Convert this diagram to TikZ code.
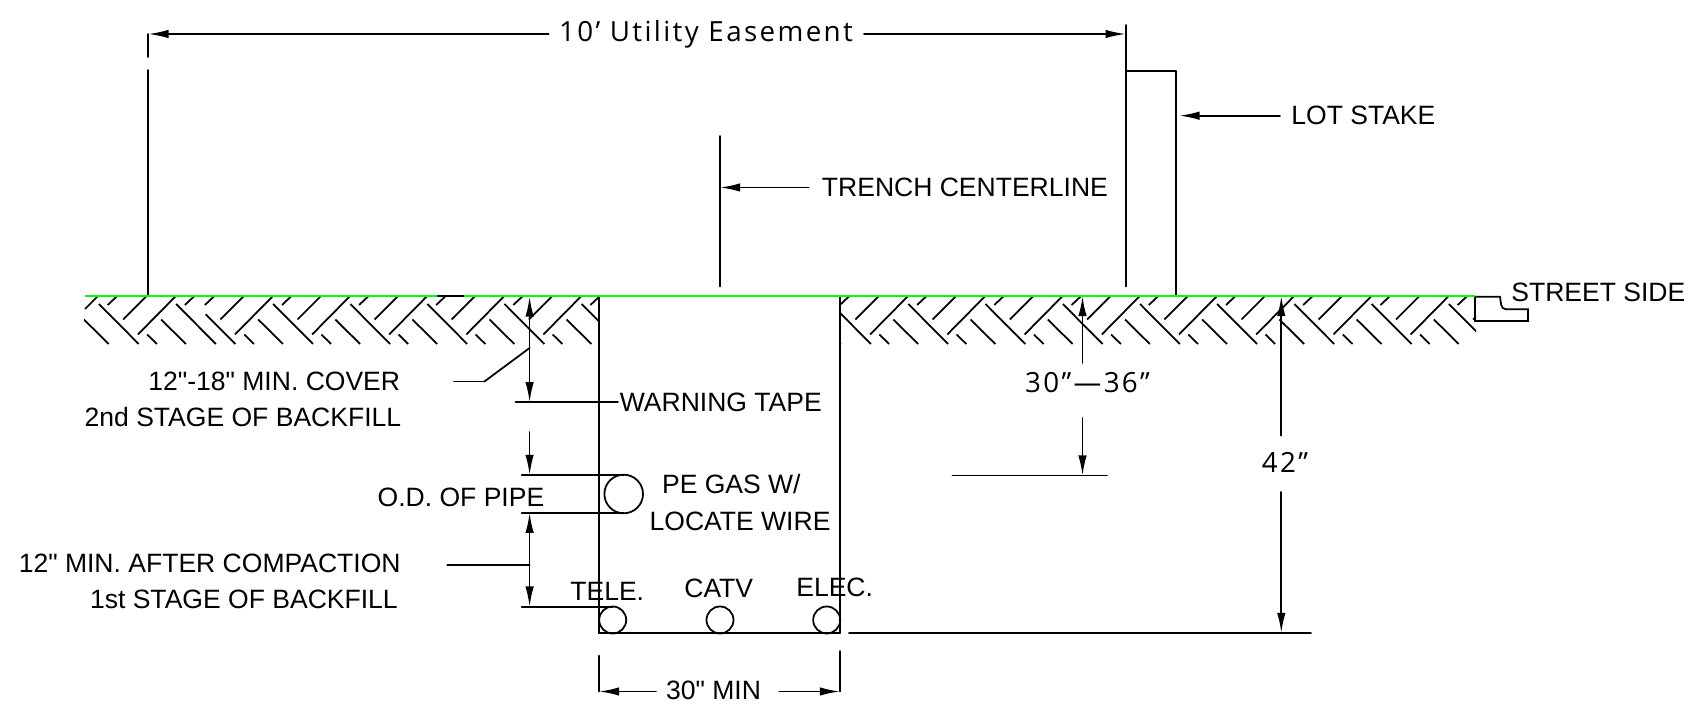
\documentclass[tikz,border=0pt]{standalone}
\usepackage{fontspec}
\setmainfont[Ligatures=TeXOff]{Liberation Sans}
\newfontfamily\cadfont[LetterSpace=8.5]{Open Sans}
\usepackage{tkz-euclide}
\usetikzlibrary{calc,arrows.meta}
\definecolor{groundgreen}{RGB}{0,250,0}
\tikzset{
    dwg/.style={color=black,line width=1pt},
    dimend/.style={dwg,-{Latex[length=11.5pt,width=4.8pt]}},
    dimboth/.style={dwg,{Latex[length=11.5pt,width=4.8pt]}-{Latex[length=11.5pt,width=4.8pt]}},
    lbl/.style={anchor=base west,inner sep=0pt,font=\fontsize{15.1pt}{17pt}\selectfont},
    cadlbl/.style={anchor=center,inner sep=0pt,font=\cadfont\fontsize{15.8pt}{17pt}\selectfont},
}
\begin{document}
\begin{tikzpicture}[x=0.02cm,y=-0.02cm]
    \useasboundingbox (0,0) rectangle (1695,715);
    % soil hatching, left of trench
    \begin{scope}
    \clip (84,290) rectangle (599,350);
    \foreach \b in {235,312.1,389.2,466.3,543.4} {
        \draw[dwg] (\b,334.5) -- (\b+37.5,296.5);
        \draw[dwg] (\b+47,305) -- (\b+56,296.5);
        \draw[dwg] (\b+62.5,319.5) -- (\b+85.5,296.5);
        \draw[dwg] (\b+9.3,334.5) -- (\b+19,344);
        \draw[dwg] (\b+23.2,319.5) -- (\b+48,344);
        \draw[dwg] (\b+38.2,304) -- (\b+78,344);
    }
    \foreach \b in {60.7,137.9} {
        \draw[dwg] (\b+47,305) -- (\b+56,296.5);
        \draw[dwg] (\b+23.2,319.5) -- (\b+48,344);
        \draw[dwg] (\b+38.2,304) -- (\b+78,344);
    }
    \draw[dwg] (85,309) -- (97.5,296.5);
    \draw[dwg] (123.2,319.5) -- (146.2,296.5);
    \draw[dwg] (137.9,334.5) -- (175.4,296.5);
    \draw[dwg] (147.2,334.5) -- (156.9,344);
    \draw[dwg] (204.9,305) -- (213.9,296.5);
    \draw[dwg] (220.4,319.5) -- (243.4,296.5);
    \draw[dwg] (205.7,314.3) -- (235.4,344);
    \end{scope}
    % soil hatching, right of trench
    \begin{scope}
    \clip (840,290) rectangle (1476,350);
    \foreach \b in {792.9,870.1,947.3,1024.6,1101.8,1179,1256.2,1333.5,1410.7} {
        \draw[dwg] (\b,334.5) -- (\b+37.5,296.5);
        \draw[dwg] (\b+47,305) -- (\b+56,296.5);
        \draw[dwg] (\b+62.5,319.5) -- (\b+85.5,296.5);
        \draw[dwg] (\b+9.3,334.5) -- (\b+19,344);
        \draw[dwg] (\b+23.2,319.5) -- (\b+48,344);
        \draw[dwg] (\b+38.2,304) -- (\b+78,344);
    }
    \end{scope}
    % ground and trench points
    \tkzDefPoint(85,296){GndL}
    \tkzDefPoint(1475,296){GndR}
    \tkzDefPoint(599,296){TrTL}
    \tkzDefPoint(599,633){TrBL}
    \tkzDefPoint(840,633){TrBR}
    \tkzDefPoint(840,296){TrTR}
    \tkzDefPoint(849,633){GradeL}
    \tkzDefPoint(1311,633){GradeR}
    % easement and stake points
    \tkzDefPoint(148.3,296){EaseB}
    \tkzDefPoint(148.3,70){EaseM}
    \tkzDefPoint(148.3,57){EaseG}
    \tkzDefPoint(148.3,34){EaseT}
    \tkzDefPoint(1125.7,25){StakeT}
    \tkzDefPoint(1125.7,286.5){StakeB}
    \tkzDefPoint(1125.7,34){EaseE}
    \tkzDefPoint(1125.7,71){BoxL}
    \tkzDefPoint(1175.7,71){BoxR}
    \tkzDefPoint(1175.7,296){BoxB}
    \tkzDefPoint(720,136){CtrT}
    \tkzDefPoint(720,286.5){CtrB}
    % dimension points
    \tkzDefPoint(529.6,296.5){CovT}
    \tkzDefPoint(529.6,402.3){CovB}
    \tkzDefPoint(529.6,432){PipeA}
    \tkzDefPoint(529.6,475){PipeB}
    \tkzDefPoint(529.6,512.7){BedT}
    \tkzDefPoint(529.6,606.7){BedB}
    \tkzDefPoint(515.5,402.3){TapeL}
    \tkzDefPoint(618,402.3){TapeR}
    \tkzDefPoint(521.7,475){PipeTL}
    \tkzDefPoint(623.7,475){PipeTR}
    \tkzDefPoint(521.7,512.7){PipeBL}
    \tkzDefPoint(623.7,512.7){PipeBR}
    \tkzDefPoint(521.7,606.7){BedL}
    \tkzDefPoint(612.7,606.7){BedR}
    \tkzDefPoint(454,381.6){CovA}
    \tkzDefPoint(484.3,381.6){CovC}
    \tkzDefPoint(529.6,348){CovD}
    \tkzDefPoint(447.3,564.7){BedA}
    \tkzDefPoint(529.6,564.7){BedC}
    \tkzDefPoint(1082.5,363){DepA}
    \tkzDefPoint(1082.5,296){DepB}
    \tkzDefPoint(1082.5,418){DepC}
    \tkzDefPoint(1082.5,475.6){DepD}
    \tkzDefPoint(952.4,475.6){DepL}
    \tkzDefPoint(1107,475.6){DepR}
    \tkzDefPoint(1281.3,435.6){TotA}
    \tkzDefPoint(1281.3,296){TotB}
    \tkzDefPoint(1281.3,492){TotC}
    \tkzDefPoint(1281.3,633){TotD}
    \tkzDefPoint(599,655.7){WidL}
    \tkzDefPoint(599,691.5){WidA}
    \tkzDefPoint(840,651){WidR}
    \tkzDefPoint(840,691.5){WidB}
    \tkzDefPoint(656,691.5){WidC}
    \tkzDefPoint(779.3,691.5){WidD}
    \tkzDefPoint(548.6,34){TopA}
    \tkzDefPoint(864,34){TopB}
    \tkzDefPoint(1280,115.7){LotA}
    \tkzDefPoint(1179.3,115.7){LotB}
    \tkzDefPoint(808.6,187.5){CtrA}
    \tkzDefPoint(720,187.5){CtrC}
    \tkzDrawSegments[dwg](TrTL,TrBL TrBL,TrBR TrBR,TrTR GradeL,GradeR)
    \tkzDrawSegments[dwg](EaseB,EaseM EaseG,EaseT StakeT,StakeB BoxL,BoxR BoxR,BoxB CtrT,CtrB)
    \tkzDrawSegments[dwg](TapeL,TapeR PipeTL,PipeTR PipeBL,PipeBR BedL,BedR)
    \tkzDrawSegments[dwg](CovA,CovC CovC,CovD BedA,BedC DepL,DepR WidL,WidA WidR,WidB)
    \tkzDrawSegments[dimboth](CovT,CovB BedT,BedB)
    \tkzDrawSegments[dimend](PipeA,PipeB DepA,DepB DepC,DepD TotA,TotB TotC,TotD)
    \tkzDrawSegments[dimend](WidC,WidA WidD,WidB TopA,EaseT TopB,EaseE LotA,LotB CtrA,CtrC)
    % utilities
    \node [draw,dwg,circle,minimum size=38.6*0.02cm,inner sep=0pt] (gas) at (623.7,494) {};
    \node [draw,dwg,circle,minimum size=27*0.02cm,inner sep=0pt] (tele) at (612.7,620) {};
    \node [draw,dwg,circle,minimum size=27*0.02cm,inner sep=0pt] (catv) at (720,620) {};
    \node [draw,dwg,circle,minimum size=27*0.02cm,inner sep=0pt] (elec) at (826.7,620) {};
    % curb
    \draw[dwg] (1475,296.7) -- (1500,296.7) .. controls (1501,301) and (1500,309.3) .. (1506,309.3)
        -- (1528,309.3) -- (1528,321) -- (1475,321) -- cycle;
    % ground line
    \draw[groundgreen,line width=1.4pt] (GndL) -- (GndR);
    \draw[dwg] (436.8,295.7) -- (463.6,295.7);
    % labels
    \node [cadlbl] (easement) at (706,34.5) {10’ Utility Easement};
    \node [cadlbl] (cover) at (1087.5,383) {30”—36”};
    \node [cadlbl] (total) at (1285,462) {42”};
    \node [lbl] (street) at (1511,301.7) {STREET SIDE};
    \node [lbl] (lotstake) at (1291,125) {LOT STAKE};
    \node [lbl] (centerline) at (821.6,196.7) {TRENCH CENTERLINE};
    \node [lbl] (mincover) at (148,390.8) {12"-18" MIN. COVER};
    \node [lbl] (stagetwo) at (84.3,426.7) {2nd STAGE OF BACKFILL};
    \node [lbl] (warning) at (619.5,411.2) {WARNING TAPE};
    \node [lbl] (pipeod) at (377.3,506.5) {O.D. OF PIPE};
    \node [lbl] (pegas) at (661.7,493.2) {PE GAS W/};
    \node [lbl] (locate) at (649.3,530.9) {LOCATE WIRE};
    \node [lbl] (minafter) at (18.4,572.2) {12" MIN. AFTER COMPACTION};
    \node [lbl] (stageone) at (89.7,608.2) {1st STAGE OF BACKFILL};
    \node [lbl] (telelbl) at (570,600.9) {TELE.};
    \node [lbl] (catvlbl) at (684,597.2) {CATV};
    \node [lbl] (eleclbl) at (796,596.9) {ELEC.};
    \node [lbl] (width) at (665.7,700) {30" MIN};
\end{tikzpicture}
\end{document}
